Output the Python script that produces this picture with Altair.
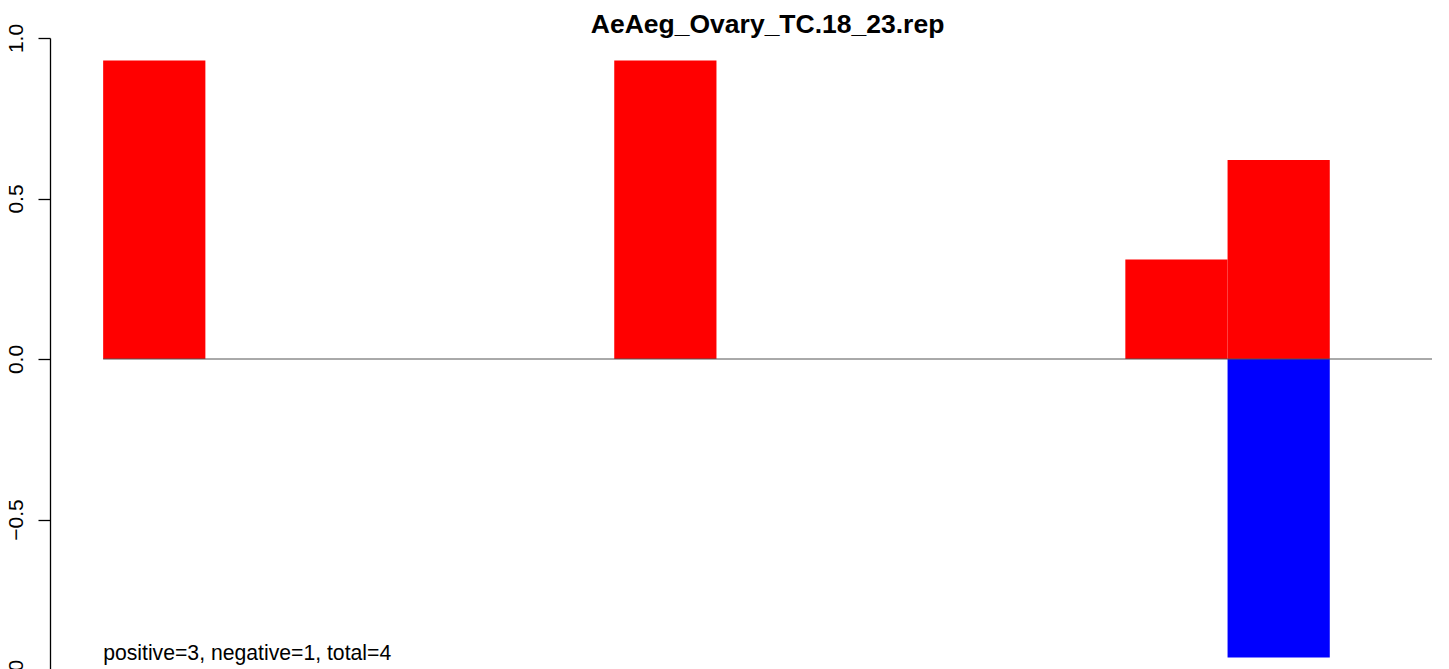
import altair as alt
import pandas as pd

# Data
slots = list(range(13))
red_values = [0.93, 0, 0, 0, 0, 0.93, 0, 0, 0, 0, 0.31, 0.62, 0]
blue_values = [0, 0, 0, 0, 0, 0, 0, 0, 0, 0, 0, -0.93, 0]
title_text = "AeAeg_Ovary_TC.18_23.rep"
note_text = "positive=3, negative=1, total=4"
y_ticks = [-1.0, -0.5, 0.0, 0.5, 1.0]

rows = []
for s, r, b in zip(slots, red_values, blue_values):
    if r != 0:
        rows.append({"slot": s, "value": r, "sign": "pos"})
    if b != 0:
        rows.append({"slot": s, "value": b, "sign": "neg"})
df = pd.DataFrame(rows)

FONT = "Liberation Sans"

x_scale = alt.Scale(domain=[-0.52, 13.0], nice=False, zero=False)
y_scale = alt.Scale(domain=[-1, 1], nice=False)

y_axis = alt.Axis(
    values=y_ticks,
    format=".1f",
    title=None,
    grid=False,
    domainColor="black",
    domainWidth=1.3,
    tickColor="black",
    tickWidth=1.3,
    tickSize=12,
    labelAngle=-90,
    labelAlign="center",
    labelBaseline="alphabetic",
    labelPadding=16,
    labelFont=FONT,
    labelFontSize=21,
    labelColor="black",
    labelOverlap=False,
    labelFlush=False,
)

bars = alt.Chart(df).transform_calculate(
    slot_end="datum.slot + 1"
).mark_bar(strokeWidth=0).encode(
    x=alt.X("slot:Q", scale=x_scale, axis=None),
    x2="slot_end:Q",
    y=alt.Y("value:Q", scale=y_scale, axis=y_axis),
    y2=alt.datum(0),
    color=alt.Color(
        "sign:N",
        scale=alt.Scale(domain=["pos", "neg"], range=["#FF0000", "#0000FF"]),
        legend=None,
    ),
)

zero_df = pd.DataFrame({"x0": [slots[0]], "x1": [slots[-1] + 1], "y": [0.0]})
zero_line = alt.Chart(zero_df).mark_rule(color="#555555", strokeWidth=1).encode(
    x=alt.X("x0:Q", scale=x_scale, axis=None),
    x2="x1:Q",
    y=alt.Y("y:Q", scale=y_scale, axis=y_axis),
)

note_df = pd.DataFrame({"x": [slots[0]], "y": [-0.937], "label": [note_text]})
note = alt.Chart(note_df).mark_text(
    align="left", baseline="alphabetic", font=FONT, fontSize=21.2, color="black"
).encode(
    x=alt.X("x:Q", scale=x_scale, axis=None),
    y=alt.Y("y:Q", scale=y_scale, axis=y_axis),
    text="label:N",
)

# title centred over the bar slots, just above the top of the axis
title_df = pd.DataFrame({"x": [(slots[0] + slots[-1] + 1) / 2], "y": [1.0165], "label": [title_text]})
title = alt.Chart(title_df).mark_text(
    align="center", baseline="alphabetic", font=FONT, fontSize=26.5,
    fontWeight="bold", color="black",
).encode(
    x=alt.X("x:Q", scale=x_scale, axis=None),
    y=alt.Y("y:Q", scale=y_scale, axis=y_axis),
    text="label:N",
)

chart = alt.layer(bars, zero_line, note, title).properties(
    width=1382,
    height=642,
    background="white",
    autosize=alt.AutoSizeParams(type="none"),
    padding={"left": 42, "top": 30, "right": 0, "bottom": 0},
).configure_view(strokeWidth=0, stroke="transparent")

chart.save("out.html", embed_options={"renderer": "svg", "actions": False})
